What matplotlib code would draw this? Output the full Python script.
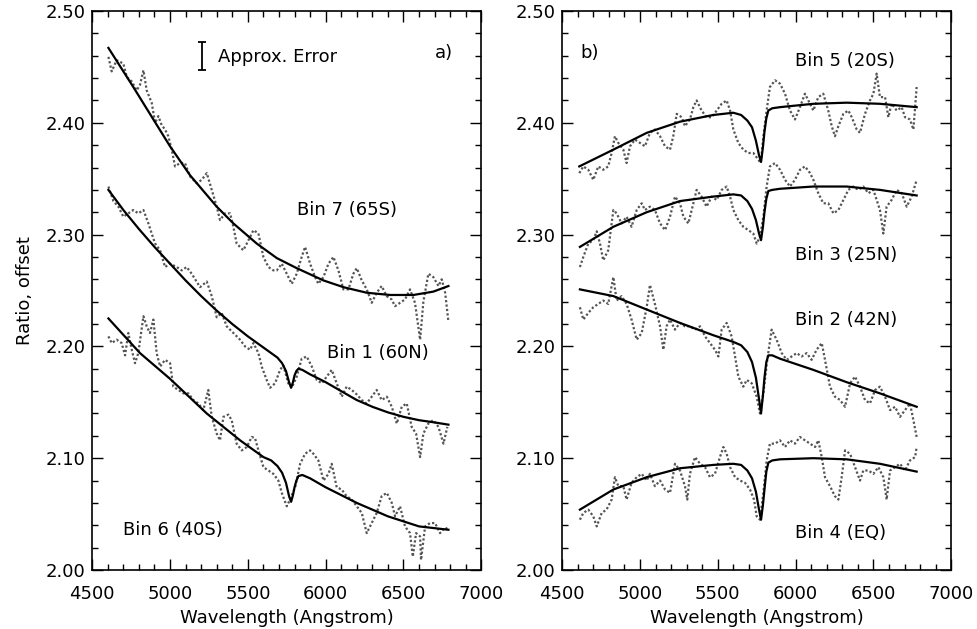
import numpy as np
import matplotlib
matplotlib.use("Agg")
import matplotlib.pyplot as plt
from matplotlib.ticker import MultipleLocator, FormatStrFormatter

# measured ratio spectra (wavelength in Angstrom, ratio + offset)
bin7 = [(4604, 2.459), (4625, 2.446), (4657, 2.456), (4700, 2.453), (4722, 2.441), (4754, 2.437),
        (4786, 2.429), (4807, 2.434), (4829, 2.447), (4850, 2.429), (4882, 2.418), (4904, 2.400),
        (4925, 2.406), (4946, 2.398), (4968, 2.394), (4989, 2.388), (5011, 2.376), (5032, 2.361),
        (5064, 2.364), (5096, 2.364), (5129, 2.352), (5171, 2.346), (5204, 2.349), (5236, 2.355),
        (5268, 2.340), (5300, 2.325), (5321, 2.313), (5354, 2.319), (5386, 2.319), (5407, 2.307),
        (5428, 2.292), (5471, 2.286), (5504, 2.295), (5536, 2.304), (5568, 2.301), (5600, 2.280),
        (5632, 2.271), (5664, 2.268), (5686, 2.268), (5718, 2.274), (5750, 2.265), (5782, 2.256),
        (5814, 2.265), (5846, 2.280), (5868, 2.289), (5900, 2.274), (5932, 2.262), (5953, 2.256),
        (5986, 2.262), (6018, 2.274), (6050, 2.280), (6082, 2.268), (6114, 2.251), (6146, 2.251),
        (6178, 2.265), (6200, 2.270), (6232, 2.259), (6264, 2.251), (6296, 2.239), (6328, 2.248),
        (6360, 2.254), (6392, 2.245), (6424, 2.242), (6446, 2.236), (6478, 2.239), (6510, 2.242),
        (6542, 2.251), (6574, 2.239), (6607, 2.206), (6628, 2.240), (6660, 2.265), (6692, 2.262),
        (6725, 2.254), (6746, 2.260), (6768, 2.248), (6789, 2.222)]

bin1 = [(4604, 2.343), (4636, 2.330), (4668, 2.325), (4700, 2.316), (4732, 2.319), (4764, 2.322),
        (4796, 2.319), (4829, 2.322), (4861, 2.310), (4882, 2.301), (4904, 2.292), (4936, 2.286),
        (4968, 2.271), (5000, 2.274), (5043, 2.271), (5075, 2.268), (5107, 2.271), (5139, 2.265),
        (5193, 2.253), (5236, 2.258), (5268, 2.245), (5300, 2.226), (5332, 2.230), (5364, 2.218),
        (5407, 2.212), (5450, 2.206), (5482, 2.200), (5514, 2.197), (5536, 2.203), (5568, 2.194),
        (5589, 2.182), (5621, 2.170), (5643, 2.163), (5675, 2.167), (5707, 2.179), (5728, 2.183),
        (5760, 2.167), (5782, 2.163), (5814, 2.173), (5846, 2.189), (5878, 2.191), (5911, 2.182),
        (5943, 2.170), (5975, 2.167), (6007, 2.173), (6039, 2.179), (6071, 2.167), (6103, 2.155),
        (6135, 2.164), (6168, 2.161), (6200, 2.157), (6232, 2.152), (6264, 2.149), (6296, 2.155),
        (6328, 2.161), (6360, 2.152), (6393, 2.155), (6425, 2.146), (6457, 2.131), (6489, 2.146),
        (6521, 2.149), (6553, 2.128), (6581, 2.122), (6607, 2.101), (6628, 2.122), (6660, 2.131),
        (6692, 2.134), (6725, 2.128), (6757, 2.113), (6782, 2.128)]

bin6 = [(4604, 2.209), (4625, 2.203), (4657, 2.206), (4689, 2.203), (4711, 2.192), (4732, 2.212),
        (4754, 2.197), (4775, 2.185), (4796, 2.194), (4829, 2.227), (4850, 2.218), (4871, 2.212),
        (4893, 2.224), (4914, 2.194), (4936, 2.182), (4968, 2.188), (5000, 2.185), (5021, 2.164),
        (5054, 2.161), (5086, 2.158), (5118, 2.158), (5150, 2.152), (5182, 2.149), (5214, 2.143),
        (5246, 2.161), (5268, 2.137), (5300, 2.122), (5321, 2.116), (5343, 2.137), (5375, 2.139),
        (5396, 2.134), (5428, 2.113), (5461, 2.107), (5493, 2.110), (5525, 2.119), (5546, 2.118),
        (5568, 2.107), (5600, 2.092), (5632, 2.089), (5664, 2.086), (5696, 2.080), (5718, 2.069),
        (5750, 2.057), (5771, 2.063), (5804, 2.074), (5836, 2.095), (5868, 2.104), (5900, 2.107),
        (5921, 2.104), (5953, 2.098), (5986, 2.080), (6018, 2.086), (6039, 2.095), (6071, 2.074),
        (6103, 2.072), (6135, 2.066), (6168, 2.063), (6200, 2.057), (6232, 2.051), (6264, 2.033),
        (6296, 2.042), (6328, 2.051), (6360, 2.066), (6393, 2.069), (6425, 2.060), (6446, 2.048),
        (6478, 2.057), (6510, 2.039), (6542, 2.033), (6560, 2.012), (6581, 2.033), (6607, 2.030),
        (6613, 2.009), (6639, 2.039), (6671, 2.042), (6703, 2.042), (6735, 2.033), (6768, 2.038),
        (6789, 2.036)]

bin5 = [(4610, 2.355), (4636, 2.361), (4668, 2.358), (4700, 2.349), (4732, 2.361), (4764, 2.358),
        (4796, 2.361), (4818, 2.373), (4839, 2.388), (4861, 2.382), (4893, 2.376), (4914, 2.364),
        (4936, 2.379), (4968, 2.385), (5000, 2.382), (5032, 2.379), (5064, 2.391), (5096, 2.394),
        (5129, 2.388), (5161, 2.379), (5193, 2.376), (5214, 2.388), (5236, 2.408), (5268, 2.405),
        (5289, 2.397), (5321, 2.403), (5343, 2.414), (5364, 2.420), (5396, 2.411), (5428, 2.405),
        (5461, 2.405), (5493, 2.411), (5525, 2.417), (5557, 2.420), (5579, 2.411), (5600, 2.394),
        (5632, 2.382), (5664, 2.376), (5696, 2.373), (5728, 2.373), (5761, 2.367), (5776, 2.364),
        (5793, 2.388), (5814, 2.411), (5835, 2.432), (5868, 2.438), (5900, 2.435), (5932, 2.426),
        (5964, 2.411), (5996, 2.403), (6028, 2.414), (6060, 2.426), (6093, 2.417), (6114, 2.411),
        (6146, 2.423), (6178, 2.426), (6210, 2.411), (6232, 2.397), (6253, 2.388), (6275, 2.397),
        (6307, 2.408), (6339, 2.411), (6361, 2.405), (6393, 2.394), (6414, 2.391), (6446, 2.408),
        (6478, 2.420), (6500, 2.426), (6521, 2.444), (6542, 2.423), (6575, 2.423), (6596, 2.405),
        (6617, 2.417), (6650, 2.411), (6682, 2.414), (6703, 2.405), (6735, 2.403), (6757, 2.394),
        (6778, 2.432)]

bin3 = [(4614, 2.271), (4636, 2.280), (4668, 2.292), (4700, 2.295), (4722, 2.303), (4743, 2.292),
        (4764, 2.277), (4796, 2.286), (4829, 2.322), (4850, 2.319), (4882, 2.310), (4914, 2.316),
        (4946, 2.307), (4979, 2.322), (5011, 2.328), (5032, 2.322), (5064, 2.325), (5096, 2.322),
        (5129, 2.310), (5161, 2.304), (5193, 2.316), (5225, 2.334), (5257, 2.328), (5279, 2.316),
        (5311, 2.310), (5343, 2.328), (5364, 2.340), (5396, 2.334), (5428, 2.325), (5461, 2.334),
        (5493, 2.331), (5525, 2.340), (5557, 2.343), (5579, 2.334), (5600, 2.322), (5632, 2.313),
        (5664, 2.307), (5696, 2.304), (5728, 2.301), (5750, 2.292), (5771, 2.298), (5793, 2.316),
        (5814, 2.343), (5835, 2.361), (5868, 2.364), (5900, 2.358), (5932, 2.349), (5964, 2.343),
        (5996, 2.349), (6028, 2.358), (6060, 2.361), (6093, 2.355), (6114, 2.349), (6146, 2.337),
        (6178, 2.328), (6210, 2.328), (6243, 2.319), (6275, 2.322), (6307, 2.331), (6339, 2.340),
        (6371, 2.343), (6403, 2.340), (6435, 2.343), (6468, 2.337), (6500, 2.340), (6521, 2.331),
        (6542, 2.322), (6564, 2.301), (6585, 2.325), (6617, 2.331), (6650, 2.340), (6682, 2.337),
        (6714, 2.325), (6746, 2.334), (6778, 2.349)]

bin2 = [(4614, 2.235), (4636, 2.224), (4668, 2.230), (4700, 2.235), (4732, 2.238), (4764, 2.241),
        (4796, 2.238), (4829, 2.262), (4850, 2.241), (4882, 2.245), (4914, 2.238), (4946, 2.224),
        (4979, 2.206), (5011, 2.212), (5043, 2.235), (5064, 2.255), (5096, 2.238), (5129, 2.218),
        (5150, 2.197), (5171, 2.218), (5193, 2.224), (5225, 2.215), (5257, 2.221), (5289, 2.218),
        (5321, 2.218), (5354, 2.215), (5386, 2.218), (5418, 2.209), (5450, 2.203), (5482, 2.197),
        (5504, 2.191), (5525, 2.215), (5557, 2.221), (5589, 2.209), (5611, 2.191), (5632, 2.173),
        (5664, 2.164), (5686, 2.170), (5718, 2.167), (5750, 2.155), (5771, 2.140), (5793, 2.158),
        (5818, 2.188), (5846, 2.215), (5878, 2.206), (5911, 2.194), (5943, 2.188), (5975, 2.191),
        (6007, 2.194), (6039, 2.191), (6071, 2.194), (6103, 2.188), (6135, 2.197), (6168, 2.203),
        (6189, 2.188), (6221, 2.164), (6253, 2.155), (6286, 2.152), (6318, 2.146), (6350, 2.167),
        (6382, 2.173), (6414, 2.164), (6446, 2.152), (6478, 2.149), (6511, 2.161), (6542, 2.164),
        (6575, 2.155), (6607, 2.143), (6639, 2.146), (6671, 2.137), (6703, 2.143), (6735, 2.149),
        (6757, 2.134), (6778, 2.119)]

bin4 = [(4614, 2.045), (4636, 2.051), (4668, 2.054), (4700, 2.048), (4722, 2.039), (4754, 2.051),
        (4785, 2.054), (4818, 2.063), (4839, 2.083), (4861, 2.075), (4893, 2.075), (4914, 2.063),
        (4946, 2.078), (4979, 2.083), (5011, 2.086), (5043, 2.080), (5064, 2.086), (5096, 2.075),
        (5129, 2.080), (5161, 2.072), (5193, 2.069), (5225, 2.095), (5257, 2.089), (5289, 2.075),
        (5304, 2.063), (5321, 2.086), (5354, 2.101), (5386, 2.095), (5418, 2.092), (5450, 2.083),
        (5482, 2.086), (5514, 2.101), (5536, 2.110), (5557, 2.104), (5579, 2.092), (5611, 2.083),
        (5643, 2.080), (5675, 2.078), (5707, 2.072), (5733, 2.063), (5750, 2.048), (5771, 2.045),
        (5793, 2.069), (5814, 2.098), (5835, 2.113), (5868, 2.113), (5900, 2.116), (5932, 2.110),
        (5964, 2.116), (5996, 2.113), (6028, 2.119), (6060, 2.116), (6093, 2.113), (6125, 2.110),
        (6146, 2.116), (6168, 2.101), (6189, 2.083), (6221, 2.075), (6253, 2.066), (6275, 2.063),
        (6296, 2.083), (6318, 2.107), (6350, 2.104), (6382, 2.092), (6414, 2.080), (6435, 2.089),
        (6468, 2.089), (6500, 2.086), (6532, 2.092), (6564, 2.083), (6585, 2.063), (6607, 2.089),
        (6639, 2.092), (6671, 2.095), (6703, 2.089), (6735, 2.098), (6768, 2.101), (6778, 2.110)]

# model fits (smooth continuum, with the 5780 band for most bins)
fit7 = [(4604, 2.467), (4764, 2.432), (4893, 2.403), (5000, 2.379), (5129, 2.353), (5300, 2.325),
        (5407, 2.310), (5557, 2.292), (5686, 2.279), (5814, 2.270), (5986, 2.259), (6114, 2.253),
        (6264, 2.248), (6414, 2.246), (6564, 2.246), (6692, 2.249), (6789, 2.254)]
fit1 = [(4604, 2.340), (4700, 2.322), (4800, 2.305), (4900, 2.289), (5000, 2.274), (5100, 2.259),
        (5200, 2.245), (5300, 2.232), (5400, 2.220), (5500, 2.209), (5600, 2.199), (5650, 2.194),
        (5690, 2.190), (5720, 2.185), (5745, 2.178), (5765, 2.168), (5778, 2.163), (5790, 2.168),
        (5800, 2.174), (5812, 2.178), (5825, 2.180), (5850, 2.179), (5900, 2.175), (6000, 2.168),
        (6100, 2.160), (6200, 2.152), (6300, 2.146), (6400, 2.141), (6500, 2.137), (6600, 2.134),
        (6700, 2.132), (6789, 2.130)]
fit6 = [(4604, 2.225), (4807, 2.194), (5000, 2.171), (5236, 2.140), (5450, 2.116), (5600, 2.101),
        (5650, 2.098), (5690, 2.093), (5720, 2.087), (5745, 2.078), (5765, 2.066), (5778, 2.061),
        (5790, 2.067), (5800, 2.074), (5812, 2.080), (5825, 2.084), (5850, 2.085), (5900, 2.082),
        (6000, 2.074), (6200, 2.060), (6400, 2.048), (6600, 2.039), (6789, 2.036)]
fit5 = [(4610, 2.361), (4829, 2.376), (5043, 2.391), (5257, 2.401), (5471, 2.407), (5600, 2.409),
        (5650, 2.407), (5690, 2.402), (5720, 2.396), (5745, 2.384), (5765, 2.371), (5778, 2.365),
        (5790, 2.378), (5800, 2.392), (5812, 2.404), (5825, 2.411), (5850, 2.413), (5900, 2.414),
        (6114, 2.417), (6328, 2.418), (6542, 2.417), (6778, 2.414)]
fit3 = [(4614, 2.289), (4829, 2.307), (5043, 2.320), (5257, 2.330), (5471, 2.334), (5600, 2.336),
        (5650, 2.335), (5690, 2.330), (5720, 2.323), (5745, 2.313), (5765, 2.301), (5778, 2.295),
        (5790, 2.307), (5800, 2.320), (5812, 2.332), (5825, 2.339), (5850, 2.340), (5900, 2.341),
        (6114, 2.343), (6328, 2.343), (6542, 2.340), (6778, 2.335)]
fit2 = [(4614, 2.251), (4829, 2.245), (5043, 2.233), (5257, 2.221), (5471, 2.210), (5600, 2.204),
        (5650, 2.201), (5690, 2.195), (5720, 2.186), (5745, 2.172), (5765, 2.153), (5778, 2.140),
        (5790, 2.156), (5800, 2.172), (5812, 2.186), (5825, 2.192), (5850, 2.192), (5900, 2.189),
        (6114, 2.179), (6328, 2.168), (6542, 2.158), (6778, 2.146)]
fit4 = [(4614, 2.054), (4829, 2.072), (5043, 2.083), (5257, 2.091), (5471, 2.094), (5600, 2.095),
        (5650, 2.094), (5690, 2.089), (5720, 2.082), (5745, 2.070), (5765, 2.054), (5778, 2.045),
        (5790, 2.058), (5800, 2.072), (5812, 2.088), (5825, 2.096), (5850, 2.098), (5900, 2.099),
        (6114, 2.100), (6328, 2.099), (6542, 2.095), (6778, 2.088)]

# labels: (text, wavelength, ratio)
labels_a = [("Bin 7 (65S)", 5815, 2.322), ("Bin 1 (60N)", 6009, 2.194), ("Bin 6 (40S)", 4698, 2.036)]
labels_b = [("Bin 5 (20S)", 5996, 2.455), ("Bin 3 (25N)", 5996, 2.282),
            ("Bin 2 (42N)", 5996, 2.224), ("Bin 4 (EQ)", 5996, 2.033)]
err_x, err_y, err_half = 5206, 2.460, 0.0125

plt.rcParams['font.family'] = 'DejaVu Sans'
plt.rcParams['font.size'] = 13

fig = plt.figure(figsize=(9.77, 6.29), dpi=100)
ax_a = fig.add_axes([0.0944, 0.0938, 0.3982, 0.8887])
ax_b = fig.add_axes([0.5754, 0.0938, 0.3982, 0.8887])

data_style = dict(color='#555555', lw=1.6, ls=(0, (1, 1)))
fit_style = dict(color='black', lw=1.6)


def draw(ax, spectra, fits, labels):
    for s in spectra:
        w, r = np.array(s).T
        ax.plot(w, r, **data_style)
    for f in fits:
        w, r = np.array(f).T
        ax.plot(w, r, **fit_style)
    for txt, w, r in labels:
        ax.text(w, r, txt, ha='left', va='center', fontsize=13)
    ax.set_xlim(4500, 7000)
    ax.set_ylim(2.0, 2.5)
    ax.xaxis.set_major_locator(MultipleLocator(500))
    ax.xaxis.set_minor_locator(MultipleLocator(100))
    ax.yaxis.set_major_locator(MultipleLocator(0.1))
    ax.yaxis.set_minor_locator(MultipleLocator(0.02))
    ax.yaxis.set_major_formatter(FormatStrFormatter('%.2f'))
    ax.tick_params(which='both', direction='in', top=True, right=True, labelsize=13, width=1)
    ax.tick_params(which='major', length=8)
    ax.tick_params(which='minor', length=4)
    ax.tick_params(axis='x', which='major', pad=11)
    ax.tick_params(axis='y', which='major', pad=5)
    for sp in ax.spines.values():
        sp.set_linewidth(1.2)
    ax.set_xlabel("Wavelength (Angstrom)", fontsize=13, labelpad=4)


draw(ax_a, [bin7, bin1, bin6], [fit7, fit1, fit6], labels_a)
draw(ax_b, [bin5, bin3, bin2, bin4], [fit5, fit3, fit2, fit4], labels_b)

ax_a.set_ylabel("Ratio, offset", fontsize=13, labelpad=8)

# approximate error bar
ax_a.errorbar([err_x], [err_y], yerr=[err_half], fmt='none', ecolor='black', elinewidth=1.3,
              capsize=3, capthick=1.3)
ax_a.text(5305, 2.459, "Approx. Error", ha='left', va='center', fontsize=13)
ax_a.text(6820, 2.462, "a)", ha='right', va='center', fontsize=13)
ax_b.text(4614, 2.462, "b)", ha='left', va='center', fontsize=13)

fig.savefig("out.png", dpi=100)
